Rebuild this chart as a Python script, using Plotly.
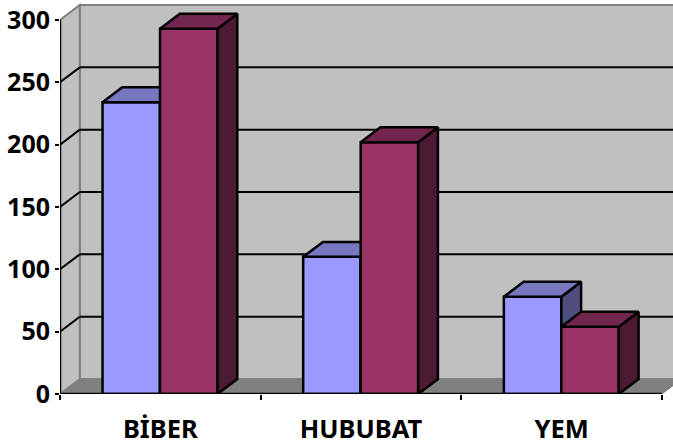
import plotly.graph_objects as go

# veriler
kategoriler = ["BİBER", "HUBUBAT", "YEM"]
seri_mavi = [234, 110, 78]
seri_bordo = [293, 202, 54]
y_ticks = [0, 50, 100, 150, 200, 250, 300]

# 3B gorunum icin derinlik (eksen biriminde)
DX = 0.0985
DY = 12.0
BAR_W = 0.2865
X_MAX = 3.055
Y_MAX = 316

FONT = "Noto Sans"


def kutu_yuzleri(fig, sol, deger, renk_ust, renk_yan, xa, ya):
    sag = sol + BAR_W
    ust_x = [sol, sag, sag + DX, sol + DX, sol]
    ust_y = [deger, deger, deger + DY, deger + DY, deger]
    yan_x = [sag, sag + DX, sag + DX, sag, sag]
    yan_y = [0, DY, deger + DY, deger, 0]
    for xs, ys, renk in [(yan_x, yan_y, renk_yan), (ust_x, ust_y, renk_ust)]:
        fig.add_trace(go.Scatter(
            x=xs, y=ys, mode="lines", fill="toself", fillcolor=renk,
            line=dict(color="black", width=2.5), xaxis=xa, yaxis=ya,
            hoverinfo="skip", showlegend=False,
        ))


def seri_ciz(fig, degerler, kayma, renk, renk_ust, renk_yan, xa, ya):
    konum = [i + 0.4985 for i in range(len(kategoriler))]
    fig.add_trace(go.Bar(
        x=konum, y=degerler, width=BAR_W, offset=kayma,
        marker=dict(color=renk, line=dict(color="black", width=2.5)),
        xaxis=xa, yaxis=ya, showlegend=False,
    ))
    for k, d in zip(konum, degerler):
        kutu_yuzleri(fig, k + kayma, d, renk_ust, renk_yan, xa, ya)


def duvar_sekilleri():
    ust = y_ticks[-1]
    sag = len(kategoriler)
    sekiller = [
        # arka duvar
        dict(type="rect", x0=DX, x1=X_MAX + 1, y0=DY, y1=ust + DY,
             fillcolor="#c0c0c0", line=dict(color="#808080", width=2)),
        # sol duvar
        dict(type="path", path=f"M 0 0 L {DX} {DY} L {DX} {ust + DY} L 0 {ust} Z",
             fillcolor="#c0c0c0", line=dict(color="#808080", width=2)),
        # taban
        dict(type="path", path=f"M 0 0 L {sag} 0 L {sag + DX} {DY} L {X_MAX + 1} {DY} L {X_MAX + 1} 0 L {sag} 0 Z",
             fillcolor="white", line=dict(width=0)),
        dict(type="path", path=f"M 0 0 L {sag} 0 L {sag + DX} {DY} L {DX} {DY} Z",
             fillcolor="#808080", line=dict(color="#808080", width=1)),
    ]
    for t in y_ticks[1:-1]:
        sekiller.append(dict(type="line", x0=0, x1=DX, y0=t, y1=t + DY,
                             line=dict(color="black", width=2)))
        sekiller.append(dict(type="line", x0=DX, x1=X_MAX + 1, y0=t + DY, y1=t + DY,
                             line=dict(color="black", width=2)))
    for s in sekiller:
        s.update(xref="x", yref="y", layer="below")
    return sekiller


fig = go.Figure()
seri_ciz(fig, seri_mavi, -BAR_W, "#9999ff", "#7777bf", "#4d4d80", "x", "y")
seri_ciz(fig, seri_bordo, 0, "#993366", "#73264d", "#4d1a33", "x2", "y2")

# eksen cizgileri
eksen_x = [len(kategoriler), 0, 0]
eksen_y = [0, 0, y_ticks[-1]]
fig.add_trace(go.Scatter(
    x=eksen_x, y=eksen_y, mode="lines", line=dict(color="black", width=2.5),
    xaxis="x2", yaxis="y2", hoverinfo="skip", showlegend=False, cliponaxis=False,
))

fig.update_layout(
    width=673,
    height=441,
    barmode="overlay",
    paper_bgcolor="white",
    plot_bgcolor="white",
    margin=dict(l=60, r=0, t=0, b=47, autoexpand=False),
    font=dict(family=FONT, color="black", size=24),
    shapes=duvar_sekilleri(),
    xaxis=dict(
        range=[0, X_MAX], tickmode="array",
        tickvals=list(range(len(kategoriler) + 1)),
        ticktext=[""] * (len(kategoriler) + 1),
        ticks="outside", ticklen=5, tickwidth=2, tickcolor="black",
        showgrid=False, zeroline=False, showline=False, automargin=False,
    ),
    yaxis=dict(
        range=[0, Y_MAX], tickmode="array", tickvals=y_ticks,
        ticks="outside", ticklen=4, tickwidth=2, tickcolor="black",
        tickfont=dict(family=FONT, size=25, weight="bold"),
        showgrid=False, zeroline=False, showline=False, automargin=False,
    ),
    xaxis2=dict(
        range=[0, X_MAX], overlaying="x", tickmode="array",
        tickvals=[i + 0.5 for i in range(len(kategoriler))], ticktext=kategoriler,
        ticks="", ticklabelstandoff=17,
        tickfont=dict(family=FONT, size=25.5, weight="bold"),
        showgrid=False, zeroline=False, showline=False, automargin=False,
    ),
    yaxis2=dict(
        range=[0, Y_MAX], overlaying="y", showticklabels=False, ticks="",
        showgrid=False, zeroline=False, showline=False, automargin=False,
    ),
)

fig.write_html("out.html", config={"displayModeBar": False},
               post_script="document.body.style.margin='0';")
